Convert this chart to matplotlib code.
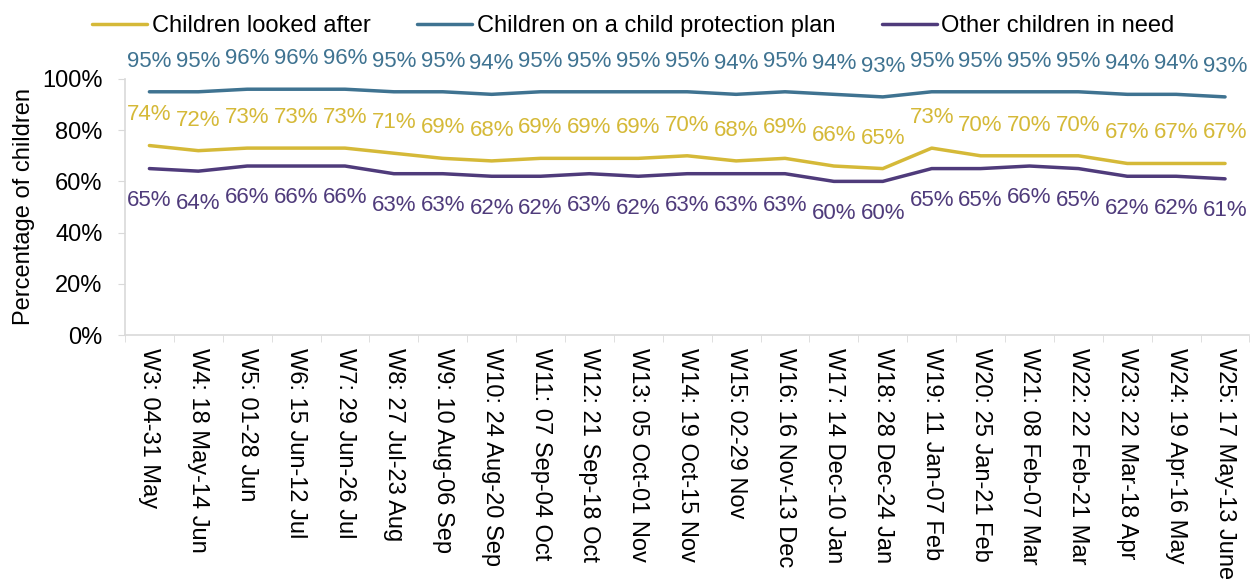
import matplotlib
matplotlib.use('Agg')
import matplotlib.pyplot as plt
from matplotlib.ticker import PercentFormatter

plt.rcParams['font.family'] = ['Liberation Sans', 'DejaVu Sans']

weeks = ['W3: 04-31 May', 'W4: 18 May-14 Jun', 'W5: 01-28 Jun', 'W6: 15 Jun-12 Jul',
         'W7: 29 Jun-26 Jul', 'W8: 27 Jul-23 Aug', 'W9: 10 Aug-06 Sep', 'W10: 24 Aug-20 Sep',
         'W11: 07 Sep-04 Oct', 'W12: 21 Sep-18 Oct', 'W13: 05 Oct-01 Nov', 'W14: 19 Oct-15 Nov',
         'W15: 02-29 Nov', 'W16: 16 Nov-13 Dec', 'W17: 14 Dec-10 Jan', 'W18: 28 Dec-24 Jan',
         'W19: 11 Jan-07 Feb', 'W20: 25 Jan-21 Feb', 'W21: 08 Feb-07 Mar', 'W22: 22 Feb-21 Mar',
         'W23: 22 Mar-18 Apr', 'W24: 19 Apr-16 May', 'W25: 17 May-13 June']

looked_after = [74, 72, 73, 73, 73, 71, 69, 68, 69, 69, 69, 70, 68, 69, 66, 65, 73, 70, 70, 70, 67, 67, 67]
protection_plan = [95, 95, 96, 96, 96, 95, 95, 94, 95, 95, 95, 95, 94, 95, 94, 93, 95, 95, 95, 95, 94, 94, 93]
other_cin = [65, 64, 66, 66, 66, 63, 63, 62, 62, 63, 62, 63, 63, 63, 60, 60, 65, 65, 66, 65, 62, 62, 61]

# name, values, colour, label offset (pt)
series = [
    ('Children looked after', looked_after, '#D5B938', 22),
    ('Children on a child protection plan', protection_plan, '#3F7391', 22),
    ('Other children in need', other_cin, '#4F3B7B', -23),
]

fig = plt.figure(figsize=(12.52, 5.79), dpi=100)
ax = fig.add_axes([0.0998, 0.4214, 0.8982, 0.4422])

x = range(len(weeks))
for name, vals, col, off in series:
    ax.plot(x, vals, color=col, lw=2.5, label=name, solid_capstyle='round')
    for xi, v in zip(x, vals):
        ax.annotate('%d%%' % v, (xi, v), xytext=(0, off),
                    textcoords='offset points', ha='center', va='center',
                    color=col, fontsize=16)

ax.set_xlim(-0.5, len(weeks) - 0.5)
ax.set_ylim(0, 100)
ax.set_yticks(range(0, 101, 20))
ax.yaxis.set_major_formatter(PercentFormatter(decimals=0))
ax.tick_params(axis='y', labelsize=17, length=5, color='#D9D9D9', pad=11)
ax.set_ylabel('Percentage of children', fontsize=17, labelpad=5)

ax.set_xticks(list(x))
ax.set_xticklabels(weeks, rotation=270, fontsize=17, va='top', ha='center')
ax.set_xticks([i - 0.5 for i in range(len(weeks) + 1)], minor=True)
ax.tick_params(axis='x', which='major', length=0, pad=9)
ax.tick_params(axis='x', which='minor', length=5, color='#D9D9D9')

for s in ['top', 'right']:
    ax.spines[s].set_visible(False)
for s in ['left', 'bottom']:
    ax.spines[s].set_color('#D9D9D9')
    ax.spines[s].set_linewidth(1.2)

fig.legend(loc='upper center', bbox_to_anchor=(0.506, 1.01), ncol=3, frameon=False,
           fontsize=17, handlelength=2.3, handletextpad=0.2, columnspacing=2.0)

fig.savefig('out.png', dpi=100)
